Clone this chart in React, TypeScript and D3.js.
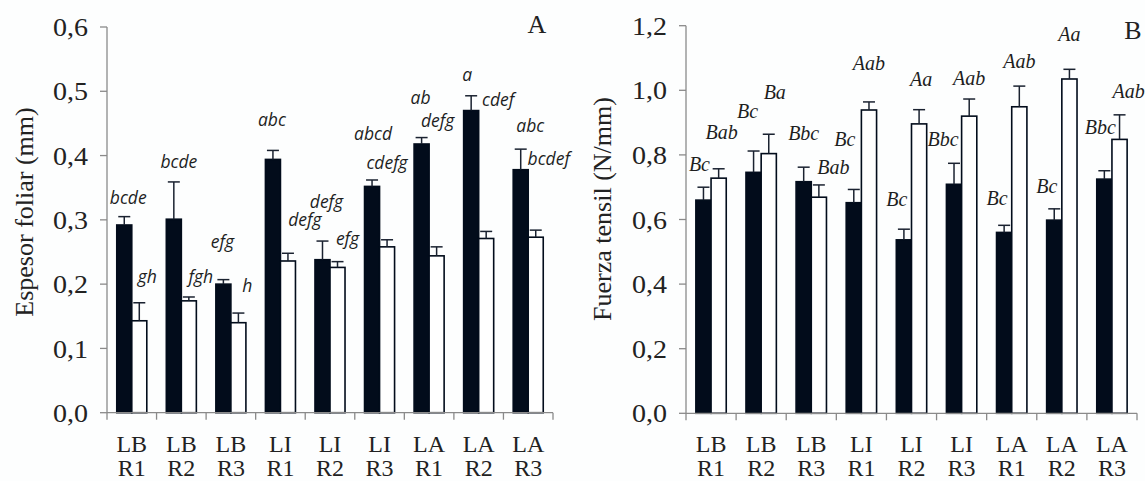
import React from "react";
import * as d3 from "d3";

// ---------- data ----------
const catTop = ["LB", "LB", "LB", "LI", "LI", "LI", "LA", "LA", "LA"];
const catBottom = ["R1", "R2", "R3", "R1", "R2", "R3", "R1", "R2", "R3"];

// Panel A: Espesor foliar (mm)
const espesorBlack = [0.292, 0.301, 0.2, 0.394, 0.238, 0.352, 0.418, 0.47, 0.378];
const espesorBlackErr = [0.013, 0.058, 0.007, 0.014, 0.029, 0.01, 0.01, 0.023, 0.032];
const espesorWhite = [0.143, 0.174, 0.14, 0.236, 0.226, 0.258, 0.244, 0.271, 0.273];
const espesorWhiteErr = [0.028, 0.006, 0.015, 0.012, 0.009, 0.011, 0.014, 0.011, 0.011];
const espesorBlackLabels = ["bcde", "bcde", "efg", "abc", "defg", "abcd", "ab", "a", "abc"];
const espesorWhiteLabels = ["gh", "fgh", "h", "defg", "efg", "cdefg", "defg", "cdef", "bcdef"];
const espesorTicks = [0, 0.1, 0.2, 0.3, 0.4, 0.5, 0.6];

// Panel B: Fuerza tensil (N/mm)
const fuerzaBlack = [0.66, 0.746, 0.717, 0.652, 0.537, 0.709, 0.56, 0.598, 0.725];
const fuerzaBlackErr = [0.04, 0.066, 0.045, 0.041, 0.033, 0.065, 0.022, 0.035, 0.026];
const fuerzaWhite = [0.728, 0.804, 0.669, 0.939, 0.896, 0.92, 0.949, 1.035, 0.848];
const fuerzaWhiteErr = [0.029, 0.06, 0.038, 0.025, 0.044, 0.053, 0.064, 0.03, 0.076];
const fuerzaBlackLabels = ["Bc", "Bc", "Bbc", "Bc", "Bc", "Bbc", "Bc", "Bc", "Bbc"];
const fuerzaWhiteLabels = ["Bab", "Ba", "Bab", "Aab", "Aa", "Aab", "Aab", "Aa", "Aab"];
const fuerzaTicks = [0, 0.2, 0.4, 0.6, 0.8, 1.0, 1.2];

// ---------- label placement (px offsets from the error-bar top) ----------
const offA_black: [number, number][] = [[4, -13], [5, -14], [-1, -32], [-1, -24], [4, -33], [1, -40], [-1, -34], [-4, -15], [9.5, -17]];
const offA_white: [number, number][] = [[8, -20], [12, -14], [9, -21], [17, -27], [10, -17], [0, -71], [1, -120], [12, -125], [13, -65]];
const offB_black: [number, number][] = [[-4, -16], [-6, -33], [0, -27], [-9, -43], [-7, -23], [-11, -17], [-7, -20], [-7.5, -16], [-4, -37]];
const offB_white: [number, number][] = [[3, -30], [6, -35], [14.5, -11], [0, -32], [2, -24], [0, -14], [0, -18], [0, -28], [9, -17]];

const DARK = "#020c1b";
const AXIS = "#8a8a8a";
const SERIF = "'Liberation Serif', 'Times New Roman', serif";
const SANS = "'Open Sans', 'Noto Sans', sans-serif";

type PanelProps = {
  x0: number; x1: number; yZero: number; yTop: number; maxY: number;
  ticks: number[];
  black: number[]; blackErr: number[]; white: number[]; whiteErr: number[];
  blackLab: string[]; whiteLab: string[];
  blackOff: [number, number][]; whiteOff: [number, number][];
  labelFont: string; labelSize: number;
  title: string; titleX: number; titleY: number;
  letter: string; letterX: number; letterY: number;
};

function Panel(p: PanelProps) {
  const idx = d3.range(catTop.length).map(String);
  const x = d3.scaleBand().domain(idx).range([p.x0, p.x1]).paddingInner(0).paddingOuter(0);
  const inner = d3.scaleBand().domain(["b", "w"]).range([0, x.bandwidth()]).paddingInner(0).paddingOuter(0.65);
  const y = d3.scaleLinear().domain([0, p.maxY]).range([p.yZero, p.yTop]);
  const bw = inner.bandwidth();
  const fmt = (v: number) => d3.format(".1f")(v).replace(".", ",");
  const boundaries = d3.range(catTop.length + 1).map((i) => p.x0 + i * x.step());

  const series = [
    { key: "b", vals: p.black, errs: p.blackErr, labs: p.blackLab, offs: p.blackOff, fill: DARK },
    { key: "w", vals: p.white, errs: p.whiteErr, labs: p.whiteLab, offs: p.whiteOff, fill: "#ffffff" },
  ];

  return (
    <g>
      {series.map((s) =>
        s.vals.map((v, i) => {
          const bx = (x(String(i)) as number) + (inner(s.key) as number);
          return (
            <rect key={s.key + i} x={bx} y={y(v)} width={bw} height={p.yZero - y(v)}
              fill={s.fill} stroke={DARK} strokeWidth={1.6} />
          );
        })
      )}
      {series.map((s) =>
        s.vals.map((v, i) => {
          const cx = (x(String(i)) as number) + (inner(s.key) as number) + bw / 2;
          const top = y(v + s.errs[i]);
          return (
            <g key={"e" + s.key + i} stroke="#1a2230" strokeWidth={1.5}>
              <line x1={cx} x2={cx} y1={y(v)} y2={top} />
              <line x1={cx - 6} x2={cx + 6} y1={top} y2={top} />
            </g>
          );
        })
      )}
      {series.map((s) =>
        s.vals.map((v, i) => {
          const cx = (x(String(i)) as number) + (inner(s.key) as number) + bw / 2;
          const top = y(v + s.errs[i]);
          return (
            <text key={"l" + s.key + i} x={cx + s.offs[i][0]} y={top + s.offs[i][1]}
              textAnchor="middle" fontFamily={p.labelFont} fontStyle="italic"
              fontSize={p.labelSize} fill="#1e1e1e">
              {s.labs[i]}
            </text>
          );
        })
      )}
      <line x1={p.x0} x2={p.x0} y1={y(0)} y2={y(p.maxY)} stroke={AXIS} strokeWidth={1.3} />
      {p.ticks.map((t) => (
        <g key={"t" + t}>
          <line x1={p.x0 - 7} x2={p.x0} y1={y(t)} y2={y(t)} stroke={AXIS} strokeWidth={1.3} />
          <text x={p.x0 - 19} y={y(t)} dy="0.35em" textAnchor="end" fontFamily={SERIF}
            fontSize={26} textLength={35} lengthAdjust="spacingAndGlyphs" fill="#222">{fmt(t)}</text>
        </g>
      ))}
      <line x1={p.x0} x2={p.x1} y1={p.yZero} y2={p.yZero} stroke={AXIS} strokeWidth={1.3} />
      {boundaries.map((bx, i) => (
        <line key={"xb" + i} x1={bx} x2={bx} y1={p.yZero} y2={p.yZero + 7} stroke={AXIS} strokeWidth={1.3} />
      ))}
      {idx.map((k, i) => {
        const cx = (x(k) as number) + x.bandwidth() / 2;
        return (
          <text key={"xl" + i} textAnchor="middle" fontFamily={SERIF} fontSize={24} fill="#222">
            <tspan x={cx} y={452}>{catTop[i]}</tspan>
            <tspan x={cx} y={476}>{catBottom[i]}</tspan>
          </text>
        );
      })}
      <text transform={`translate(${p.titleX},${p.titleY}) rotate(-90)`} textAnchor="middle"
        fontFamily={SERIF} fontSize={26} fill="#222">{p.title}</text>
      <text x={p.letterX} y={p.letterY} textAnchor="middle" fontFamily={SERIF} fontSize={26} fill="#222">
        {p.letter}
      </text>
    </g>
  );
}

export default function App() {
  return (
    <svg width={1145} height={481} style={{ position: "absolute", left: 0, top: 0, background: "#fdfefe" }}>
      <Panel x0={107} x1={553} yZero={412.7} yTop={27} maxY={0.6} ticks={espesorTicks}
        black={espesorBlack} blackErr={espesorBlackErr} white={espesorWhite} whiteErr={espesorWhiteErr}
        blackLab={espesorBlackLabels} whiteLab={espesorWhiteLabels}
        blackOff={offA_black} whiteOff={offA_white}
        labelFont={SANS} labelSize={17.5}
        title="Espesor foliar (mm)" titleX={33} titleY={212}
        letter="A" letterX={537} letterY={33} />
      <Panel x0={686} x1={1137} yZero={413.3} yTop={25.7} maxY={1.2} ticks={fuerzaTicks}
        black={fuerzaBlack} blackErr={fuerzaBlackErr} white={fuerzaWhite} whiteErr={fuerzaWhiteErr}
        blackLab={fuerzaBlackLabels} whiteLab={fuerzaWhiteLabels}
        blackOff={offB_black} whiteOff={offB_white}
        labelFont={SERIF} labelSize={20}
        title="Fuerza tensil (N/mm)" titleX={611} titleY={209}
        letter="B" letterX={1133} letterY={39} />
    </svg>
  );
}
